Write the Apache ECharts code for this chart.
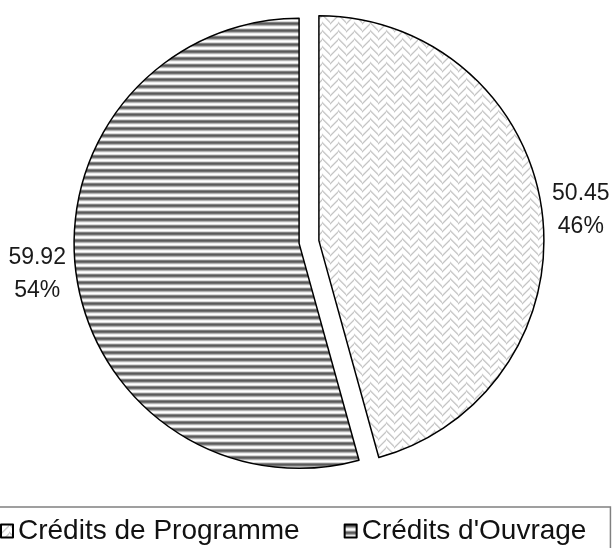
<!DOCTYPE html>
<html>
<head>
<meta charset="utf-8">
<script src="https://cdn.jsdelivr.net/npm/echarts@6/dist/echarts.min.js"></script>
<style>
  html, body { margin: 0; padding: 0; background: #fff; }
  #chart { width: 612px; height: 548px; }
</style>
</head>
<body>
<div id="chart"></div>
<script>
// data
const categories = ['Crédits de Programme', "Crédits d'Ouvrage"]
const values = [50.45, 59.92]

// light "weave" fill for the first slice
function weavePattern () {
  const c = document.createElement('canvas')
  c.width = 16
  c.height = 16
  const ctx = c.getContext('2d')
  ctx.fillStyle = '#fff'
  ctx.fillRect(0, 0, 16, 16)
  for (let y = 0; y < 16; y++) {
    for (let x = 0; x < 16; x++) {
      const k = x < 8 ? (x + y) % 8 : ((x - y) % 8 + 8) % 8
      if (k === 0 || k === 1) {
        ctx.fillStyle = (x + y) % 2 === 0 ? '#b8b8b8' : '#dadada'
        ctx.fillRect(x, y, 1, 1)
      }
    }
  }
  return c
}

// horizontal stripes for the second slice
function stripePattern () {
  const c = document.createElement('canvas')
  c.width = 8
  c.height = 7
  const ctx = c.getContext('2d')
  const rows = ['#5a5a5a', '#5a5a5a', '#808080', '#cfcfcf', '#ffffff', '#ffffff', '#c4c4c4']
  rows.forEach((col, i) => {
    ctx.fillStyle = col
    ctx.fillRect(0, i, 8, 1)
  })
  return c
}

const fills = [
  { image: weavePattern(), repeat: 'repeat' },
  { image: stripePattern(), repeat: 'repeat' }
]

const chart = echarts.init(document.getElementById('chart'))
chart.setOption({
  animation: false,
  legend: {
    data: categories,
    orient: 'horizontal',
    left: -12,
    top: 507,
    width: 600,
    padding: [10, 24, 24, 12],
    itemGap: 44,
    itemWidth: 12,
    itemHeight: 13,
    icon: 'rect',
    borderColor: '#808080',
    borderWidth: 1.5,
    textStyle: {
      fontFamily: 'Liberation Sans, Arial, sans-serif',
      fontSize: 28,
      color: '#111'
    }
  },
  series: [{
    type: 'pie',
    center: [309, 242],
    radius: 225,
    startAngle: 90,
    clockwise: true,
    selectedMode: 'multiple',
    selectedOffset: 10,
    percentPrecision: 0,
    avoidLabelOverlap: false,
    emphasis: { disabled: true },
    itemStyle: {
      borderColor: '#000',
      borderWidth: 1.5
    },
    label: {
      position: 'outside',
      alignTo: 'none',
      formatter: '{v|{c}}\n{v|{d}%}',
      rich: {
        v: {
          width: 60,
          align: 'center',
          fontFamily: 'Liberation Sans, Arial, sans-serif',
          fontSize: 23,
          lineHeight: 33,
          color: '#1a1a1a'
        }
      }
    },
    labelLine: { show: false, length: 4, length2: 0 },
    data: categories.map((name, i) => ({
      name: name,
      value: values[i],
      selected: true,
      itemStyle: { color: fills[i] }
    }))
  }]
})
</script>
</body>
</html>
